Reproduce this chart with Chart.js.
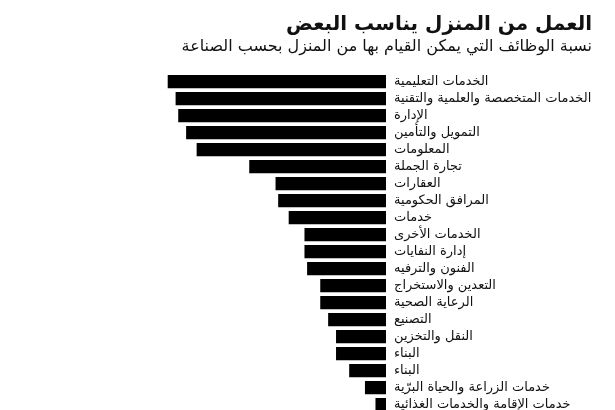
<!DOCTYPE html>
<html lang="ar">
<head>
<meta charset="utf-8">
<script src="https://cdn.jsdelivr.net/npm/chart.js@4.4.0/dist/chart.umd.min.js"></script>
<style>
  html, body { margin: 0; padding: 0; background: #fff; overflow: hidden; }
  #wrap { width: 615px; height: 421px; position: relative; }
</style>
</head>
<body>
<div id="wrap"><canvas id="wfhChart"></canvas></div>
<script>
// Industries (top to bottom)
const industries = [
  'الخدمات التعليمية',
  'الخدمات المتخصصة والعلمية والتقنية',
  'الإدارة',
  'التمويل والتأمين',
  'المعلومات',
  'تجارة الجملة',
  'العقارات',
  'المرافق الحكومية',
  'خدمات',
  'الخدمات الأخرى',
  'إدارة النفايات',
  'الفنون والترفيه',
  'التعدين والاستخراج',
  'الرعاية الصحية',
  'التصنيع',
  'النقل والتخزين',
  'البناء',
  'البناء',
  'خدمات الزراعة والحياة البرّية',
  'خدمات الإقامة والخدمات الغذائية'
];

// Share of jobs that can be done from home (%)
const shareAtHome = [83, 80, 79, 76, 72, 52, 42, 41, 37, 31, 31, 30, 25, 25, 22, 19, 19, 14, 8, 4];

const chartTitle = 'العمل من المنزل يناسب البعض';
const chartSubtitle = 'نسبة الوظائف التي يمكن القيام بها من المنزل بحسب الصناعة';

const arabicFont = "'DejaVu Sans', 'Noto Sans', sans-serif";

const ctx = document.getElementById('wfhChart').getContext('2d');
new Chart(ctx, {
  type: 'bar',
  data: {
    labels: industries,
    datasets: [
      {
        label: 'النسبة',
        data: shareAtHome,
        backgroundColor: '#000',
        borderWidth: 0,
        categoryPercentage: 1,
        barPercentage: 0.78,
      },
    ],
  },
  options: {
    indexAxis: 'y',
    responsive: true,
    maintainAspectRatio: false,
    animation: false,
    layout: {
      padding: { left: 123, right: 23, top: 0, bottom: 0 },
    },
    plugins: {
      legend: { display: false },
      tooltip: { enabled: false },
      title: {
        display: true,
        text: chartTitle,
        align: 'end',
        color: '#111',
        font: { family: arabicFont, size: 20, weight: 'bold', lineHeight: 1 },
        padding: { top: 15, bottom: 0 },
      },
      subtitle: {
        display: true,
        text: chartSubtitle,
        align: 'end',
        color: '#111',
        font: { family: arabicFont, size: 16, lineHeight: 1.2 },
        padding: { top: 2, bottom: 17 },
      },
    },
    scales: {
      x: {
        display: false,
        reverse: true,
        min: 0,
        max: 100,
      },
      y: {
        position: 'right',
        grid: { display: false },
        border: { display: false },
        ticks: {
          color: '#111',
          padding: 0,
          autoSkip: false,
          font: { family: arabicFont, size: 13 },
        },
        afterFit: function (scale) {
          scale.width = 206;
        },
      },
    },
  },
});
</script>
</body>
</html>
